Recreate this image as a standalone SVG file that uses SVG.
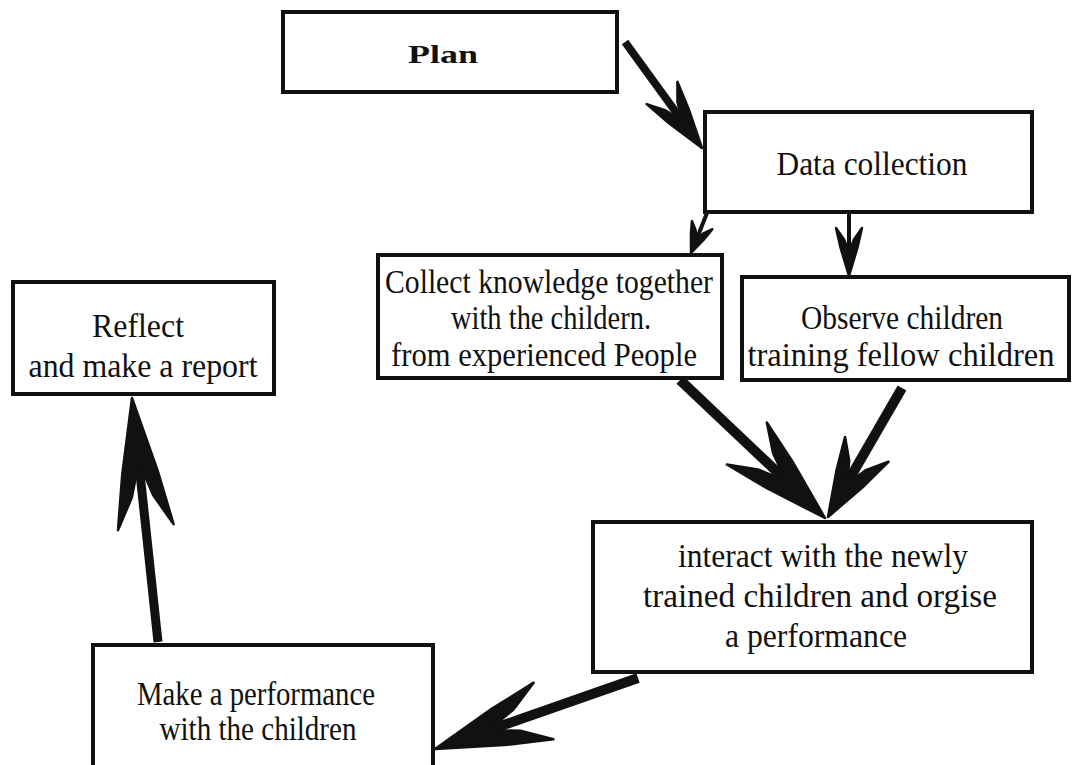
<svg xmlns="http://www.w3.org/2000/svg" width="1075" height="765" viewBox="0 0 1075 765">
<defs>
<style>
.box{fill:#fff;stroke:#111;stroke-width:4}
.t{font-family:"Liberation Serif","Times New Roman",serif;font-size:33px;fill:#111;text-anchor:middle}
.pl{font-family:"Liberation Serif","Times New Roman",serif;font-size:26px;font-weight:bold;fill:#111;text-anchor:middle}
.shaft{stroke:#111;fill:none;stroke-linecap:butt}
.head{fill:#111;stroke:#111}
</style>
<path id="hd" vector-effect="non-scaling-stroke" stroke-width="2.5" stroke-linejoin="round" d="M0,0 L-0.58,-0.64 L-1,-1 L-0.76,-0.38 L-0.55,-0.08 L-0.55,0.08 L-0.76,0.38 L-1,1 L-0.58,0.64 Z"/>
</defs>
<rect width="1075" height="765" fill="#fff"/>

<g id="connectors">
  <line class="shaft" x1="625" y1="42" x2="686" y2="126" stroke-width="8"/>
  <use href="#hd" class="head" transform="translate(702,148) rotate(54) scale(68,19)"/>
  <line class="shaft" x1="707" y1="213" x2="695.5" y2="242" stroke-width="4"/>
  <use href="#hd" class="head" transform="translate(691,253) rotate(111.8) scale(30,11)"/>
  <line class="shaft" x1="849" y1="213" x2="849" y2="257" stroke-width="4"/>
  <use href="#hd" class="head" transform="translate(849,276) rotate(90) scale(48,13)"/>
  <line class="shaft" x1="680" y1="380" x2="794" y2="488" stroke-width="10"/>
  <use href="#hd" class="head" transform="translate(825,518) rotate(43.6) scale(108,29)"/>
  <line class="shaft" x1="902" y1="388" x2="843" y2="490" stroke-width="10"/>
  <use href="#hd" class="head" transform="translate(828,517) rotate(119.8) scale(78,25)"/>
  <line class="shaft" x1="638" y1="678" x2="478" y2="734" stroke-width="10"/>
  <use href="#hd" class="head" transform="translate(435,749) rotate(160.7) scale(115,30)"/>
  <line class="shaft" x1="158" y1="642" x2="137.5" y2="450" stroke-width="9"/>
  <use href="#hd" class="head" transform="translate(132,398) rotate(-96.1) scale(130,28)"/>
</g>

<g id="plan">
  <rect class="box" x="283" y="12" width="334" height="80"/>
  <text class="pl" x="443" y="63" textLength="70" lengthAdjust="spacingAndGlyphs">Plan</text>
</g>
<g id="data-collection">
  <rect class="box" x="705" y="112" width="327" height="100"/>
  <text class="t" x="872" y="175" textLength="191" lengthAdjust="spacingAndGlyphs">Data collection</text>
</g>
<g id="collect-knowledge">
  <rect class="box" x="378" y="255" width="344" height="123"/>
  <text class="t" x="549" y="293" textLength="328" lengthAdjust="spacingAndGlyphs">Collect knowledge together</text>
  <text class="t" x="551" y="329" textLength="200" lengthAdjust="spacingAndGlyphs">with the childern.</text>
  <text class="t" x="544" y="366" textLength="306" lengthAdjust="spacingAndGlyphs">from experienced People</text>
</g>
<g id="observe-children">
  <rect class="box" x="742" y="277" width="327" height="103"/>
  <text class="t" x="902" y="329" textLength="202" lengthAdjust="spacingAndGlyphs">Observe children</text>
  <text class="t" x="901" y="366" textLength="307" lengthAdjust="spacingAndGlyphs">training fellow children</text>
</g>
<g id="reflect">
  <rect class="box" x="13" y="282" width="261" height="112"/>
  <text class="t" x="138" y="337" textLength="92" lengthAdjust="spacingAndGlyphs">Reflect</text>
  <text class="t" x="143" y="377" textLength="229" lengthAdjust="spacingAndGlyphs">and make a report</text>
</g>
<g id="interact">
  <rect class="box" x="593" y="522" width="439" height="150"/>
  <text class="t" x="823" y="567" textLength="290" lengthAdjust="spacingAndGlyphs">interact with the newly</text>
  <text class="t" x="820" y="607" textLength="354" lengthAdjust="spacingAndGlyphs">trained children and orgise</text>
  <text class="t" x="816" y="647" textLength="182" lengthAdjust="spacingAndGlyphs">a performance</text>
</g>
<g id="make-performance">
  <rect class="box" x="93" y="645" width="340" height="150"/>
  <text class="t" x="256" y="705" textLength="238" lengthAdjust="spacingAndGlyphs">Make a performance</text>
  <text class="t" x="258" y="740" textLength="197" lengthAdjust="spacingAndGlyphs">with the children</text>
</g>
</svg>
